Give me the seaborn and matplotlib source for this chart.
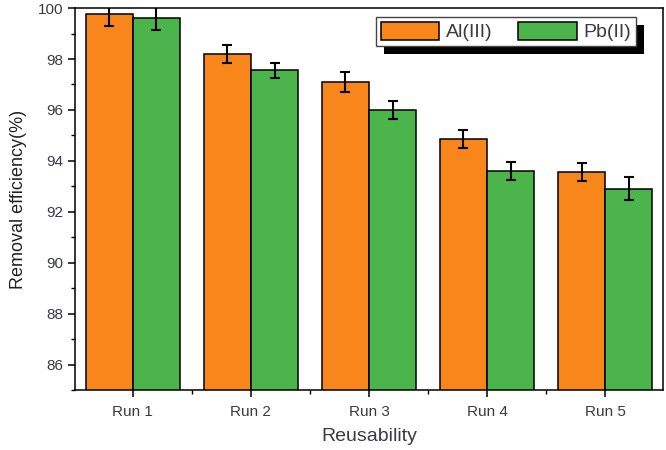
import matplotlib
matplotlib.use("Agg")
import matplotlib.pyplot as plt
import seaborn as sns
import pandas as pd
import numpy as np
from matplotlib.patches import Rectangle
from matplotlib.ticker import MultipleLocator, FixedLocator

runs = ["Run 1", "Run 2", "Run 3", "Run 4", "Run 5"]
al_values = [99.75, 98.2, 97.1, 94.85, 93.55]
pb_values = [99.6, 97.55, 96.0, 93.6, 92.9]
al_err = [0.45, 0.35, 0.4, 0.35, 0.35]
pb_err = [0.45, 0.3, 0.35, 0.35, 0.45]
series = ["Al(III)", "Pb(II)"]
colors = ["#F8861A", "#4BB44A"]

df = pd.DataFrame({
    "run": runs * 2,
    "value": al_values + pb_values,
    "err": al_err + pb_err,
    "metal": [series[0]] * 5 + [series[1]] * 5,
})

sns.set_style("ticks")
plt.rcParams["font.family"] = ["Liberation Sans", "DejaVu Sans"]

fig = plt.figure(figsize=(6.66, 4.5), dpi=100)
ax = fig.add_axes([0.1126, 0.1333, 0.8829, 0.8487])

sns.barplot(data=df, x="run", y="value", hue="metal", order=runs,
            hue_order=series, palette=colors, errorbar=None, width=0.8,
            edgecolor="black", linewidth=1.1, saturation=1, ax=ax)

# error bars at bar centers
for cont, m in zip(ax.containers, series):
    sub = df[df["metal"] == m].set_index("run").loc[runs]
    xs = [b.get_x() + b.get_width() / 2 for b in cont]
    ax.errorbar(xs, sub["value"], yerr=sub["err"], fmt="none",
                ecolor="black", elinewidth=1.5, capsize=3.5, capthick=1.5,
                zorder=4)

ax.set_ylim(85, 100)
ax.set_xlim(-0.49, 4.49)
ax.yaxis.set_major_locator(FixedLocator([86, 88, 90, 92, 94, 96, 98, 100]))
ax.yaxis.set_minor_locator(MultipleLocator(1))
ax.xaxis.set_minor_locator(FixedLocator([0.5, 1.5, 2.5, 3.5]))
ax.tick_params(axis="both", which="major", direction="out", length=5,
               width=1.1, color="black", labelsize=11, labelcolor="#3a3a48")
ax.tick_params(axis="both", which="minor", direction="out", length=3,
               width=1.0, color="black")
ax.tick_params(axis="x", labelsize=11, pad=6)
for s in ax.spines.values():
    s.set_visible(True)
    s.set_color("black")
    s.set_linewidth(1.1)

ax.set_xlabel("Reusability", fontsize=14, color="#3a3a48", labelpad=6)
ax.set_ylabel("Removal efficiency(%)", fontsize=13, color="#222222", labelpad=8)

leg = ax.legend(loc="upper right", bbox_to_anchor=(0.954, 0.976), ncol=2,
                fontsize=14, frameon=True, fancybox=False, framealpha=1,
                facecolor="white", handlelength=3.0,
                handleheight=1.0, handletextpad=0.35, columnspacing=1.3,
                borderpad=0.25, borderaxespad=0.0, title=None)
leg.get_frame().set_edgecolor("#444444")
leg.get_frame().set_linewidth(1.0)
leg.set_zorder(6)
for t in leg.get_texts():
    t.set_color("#3a3a48")

fig.canvas.draw()
bb = leg.get_window_extent()
inv = ax.transAxes.inverted()
(x0, y0) = inv.transform((bb.x0 + 8, bb.y0 - 8))
(x1, y1) = inv.transform((bb.x1 + 8, bb.y1 - 8))
ax.add_patch(Rectangle((x0, y0), x1 - x0, y1 - y0, transform=ax.transAxes,
                       facecolor="black", edgecolor="none", zorder=5.5,
                       clip_on=False))

fig.savefig("out.png", dpi=100)
